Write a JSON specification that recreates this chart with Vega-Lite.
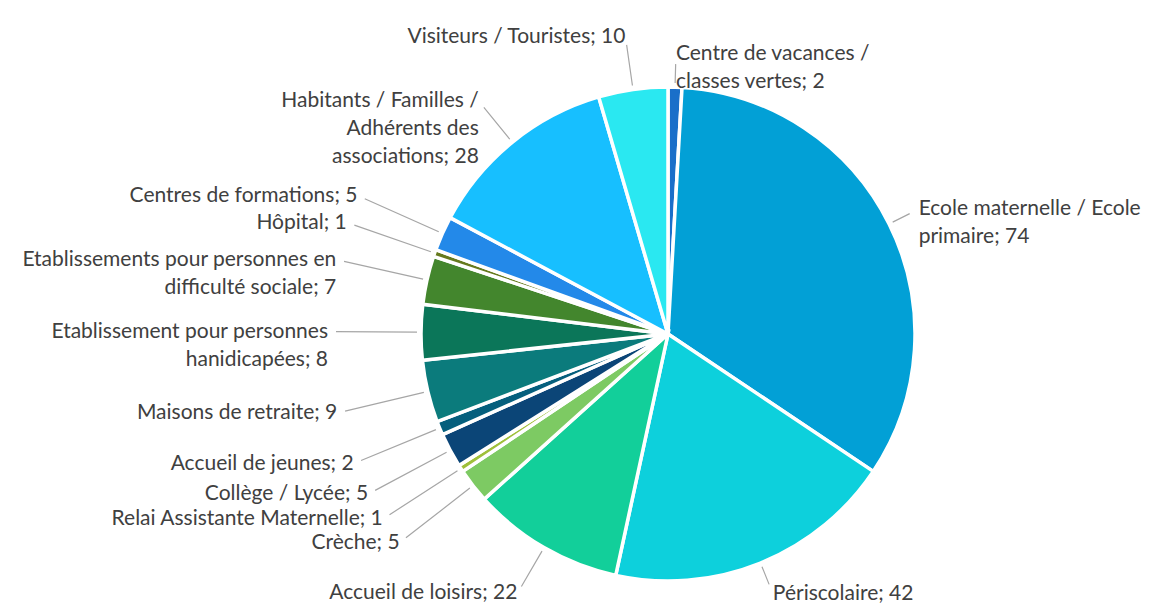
{
  "$schema": "https://vega.github.io/schema/vega-lite/v6.json",
  "width": 978,
  "height": 564,
  "autosize": {"type": "none"},
  "padding": {"left": 179, "top": 52, "right": 0, "bottom": 0},
  "background": "white",
  "config": {
    "view": {"stroke": null},
    "text": {"font": "Lato", "fontSize": 21, "fill": "#404040", "lineHeight": 28, "lineBreak": "\n"}
  },
  "data": {
    "values": [
      {"i": 1, "cat": "Centre de vacances / classes vertes", "value": 2, "label": "Centre de vacances /\nclasses vertes; 2"},
      {"i": 2, "cat": "Ecole maternelle / Ecole primaire", "value": 74, "label": "Ecole maternelle / Ecole\nprimaire; 74"},
      {"i": 3, "cat": "Périscolaire", "value": 42, "label": "Périscolaire; 42"},
      {"i": 4, "cat": "Accueil de loisirs", "value": 22, "label": "Accueil de loisirs; 22"},
      {"i": 5, "cat": "Crèche", "value": 5, "label": "Crèche; 5"},
      {"i": 6, "cat": "Relai Assistante Maternelle", "value": 1, "label": "Relai Assistante Maternelle; 1"},
      {"i": 7, "cat": "Collège / Lycée", "value": 5, "label": "Collège / Lycée; 5"},
      {"i": 8, "cat": "Accueil de jeunes", "value": 2, "label": "Accueil de jeunes; 2"},
      {"i": 9, "cat": "Maisons de retraite", "value": 9, "label": "Maisons de retraite; 9"},
      {"i": 10, "cat": "Etablissement pour personnes hanidicapées", "value": 8, "label": "Etablissement pour personnes\nhanidicapées; 8"},
      {"i": 11, "cat": "Etablissements pour personnes en difficulté sociale", "value": 7, "label": "Etablissements pour personnes en\ndifficulté sociale; 7"},
      {"i": 12, "cat": "Hôpital", "value": 1, "label": "Hôpital; 1"},
      {"i": 13, "cat": "Centres de formations", "value": 5, "label": "Centres de formations; 5"},
      {"i": 14, "cat": "Habitants / Familles / Adhérents des associations", "value": 28, "label": "Habitants / Familles /\nAdhérents des\nassociations; 28"},
      {"i": 15, "cat": "Visiteurs / Touristes", "value": 10, "label": "Visiteurs / Touristes; 10"}
    ]
  },
  "encoding": {
    "theta": {"field": "value", "type": "quantitative", "stack": true},
    "order": {"field": "i", "type": "quantitative"}
  },
  "layer": [
    {
      "mark": {"type": "arc", "outerRadius": 247, "stroke": "white", "strokeWidth": 3.5},
      "encoding": {
        "color": {
          "field": "cat",
          "type": "nominal",
          "legend": null,
          "scale": {
            "domain": ["Centre de vacances / classes vertes", "Ecole maternelle / Ecole primaire", "Périscolaire", "Accueil de loisirs", "Crèche", "Relai Assistante Maternelle", "Collège / Lycée", "Accueil de jeunes", "Maisons de retraite", "Etablissement pour personnes hanidicapées", "Etablissements pour personnes en difficulté sociale", "Hôpital", "Centres de formations", "Habitants / Familles / Adhérents des associations", "Visiteurs / Touristes"],
            "range": ["#1A6FC9", "#02A0D6", "#0DD0DC", "#12CF9A", "#7DCA63", "#9FC03A", "#0B4577", "#055F7D", "#0B7B7C", "#0B7659", "#43862D", "#667A1E", "#2389E9", "#17BFFF", "#2AE8F1"]
          }
        }
      }
    },
    {
      "mark": {"type": "arc", "innerRadius": 251, "outerRadius": 332, "padAngle": 3, "fillOpacity": 0, "stroke": "#A6A6A6", "strokeWidth": 1.2},
      "encoding": {
        "strokeOpacity": {
          "condition": {"test": {"field": "cat", "oneOf": ["Crèche", "Relai Assistante Maternelle", "Collège / Lycée", "Accueil de jeunes", "Maisons de retraite", "Etablissement pour personnes hanidicapées", "Etablissements pour personnes en difficulté sociale", "Hôpital", "Centres de formations"]}, "value": 1},
          "value": 0
        }
      }
    },
    {
      "mark": {"type": "arc", "innerRadius": 251, "outerRadius": 292, "padAngle": 3, "fillOpacity": 0, "stroke": "#A6A6A6", "strokeWidth": 1.2},
      "encoding": {
        "strokeOpacity": {
          "condition": {"test": {"field": "cat", "oneOf": ["Accueil de loisirs", "Habitants / Familles / Adhérents des associations", "Visiteurs / Touristes"]}, "value": 1},
          "value": 0
        }
      }
    },
    {
      "mark": {"type": "arc", "innerRadius": 251, "outerRadius": 270, "padAngle": 3, "fillOpacity": 0, "stroke": "#A6A6A6", "strokeWidth": 1.2},
      "encoding": {
        "strokeOpacity": {
          "condition": {"test": {"field": "cat", "oneOf": ["Centre de vacances / classes vertes", "Ecole maternelle / Ecole primaire", "Périscolaire"]}, "value": 1},
          "value": 0
        }
      }
    },
    {
      "mark": {"type": "text", "radius": 340, "align": "right", "baseline": "middle"},
      "encoding": {
        "text": {
          "condition": {"test": {"field": "cat", "oneOf": ["Crèche", "Relai Assistante Maternelle", "Collège / Lycée", "Accueil de jeunes", "Maisons de retraite", "Etablissement pour personnes hanidicapées", "Etablissements pour personnes en difficulté sociale", "Hôpital", "Centres de formations"]}, "field": "label"},
          "value": ""
        }
      }
    },
    {
      "mark": {"type": "text", "radius": 300, "align": "right", "baseline": "middle"},
      "encoding": {
        "text": {
          "condition": {"test": {"field": "cat", "oneOf": ["Accueil de loisirs", "Habitants / Familles / Adhérents des associations", "Visiteurs / Touristes"]}, "field": "label"},
          "value": ""
        }
      }
    },
    {
      "mark": {"type": "text", "radius": 280, "align": "left", "baseline": "middle"},
      "encoding": {
        "text": {
          "condition": {"test": {"field": "cat", "oneOf": ["Centre de vacances / classes vertes", "Ecole maternelle / Ecole primaire", "Périscolaire"]}, "field": "label"},
          "value": ""
        }
      }
    }
  ]
}
